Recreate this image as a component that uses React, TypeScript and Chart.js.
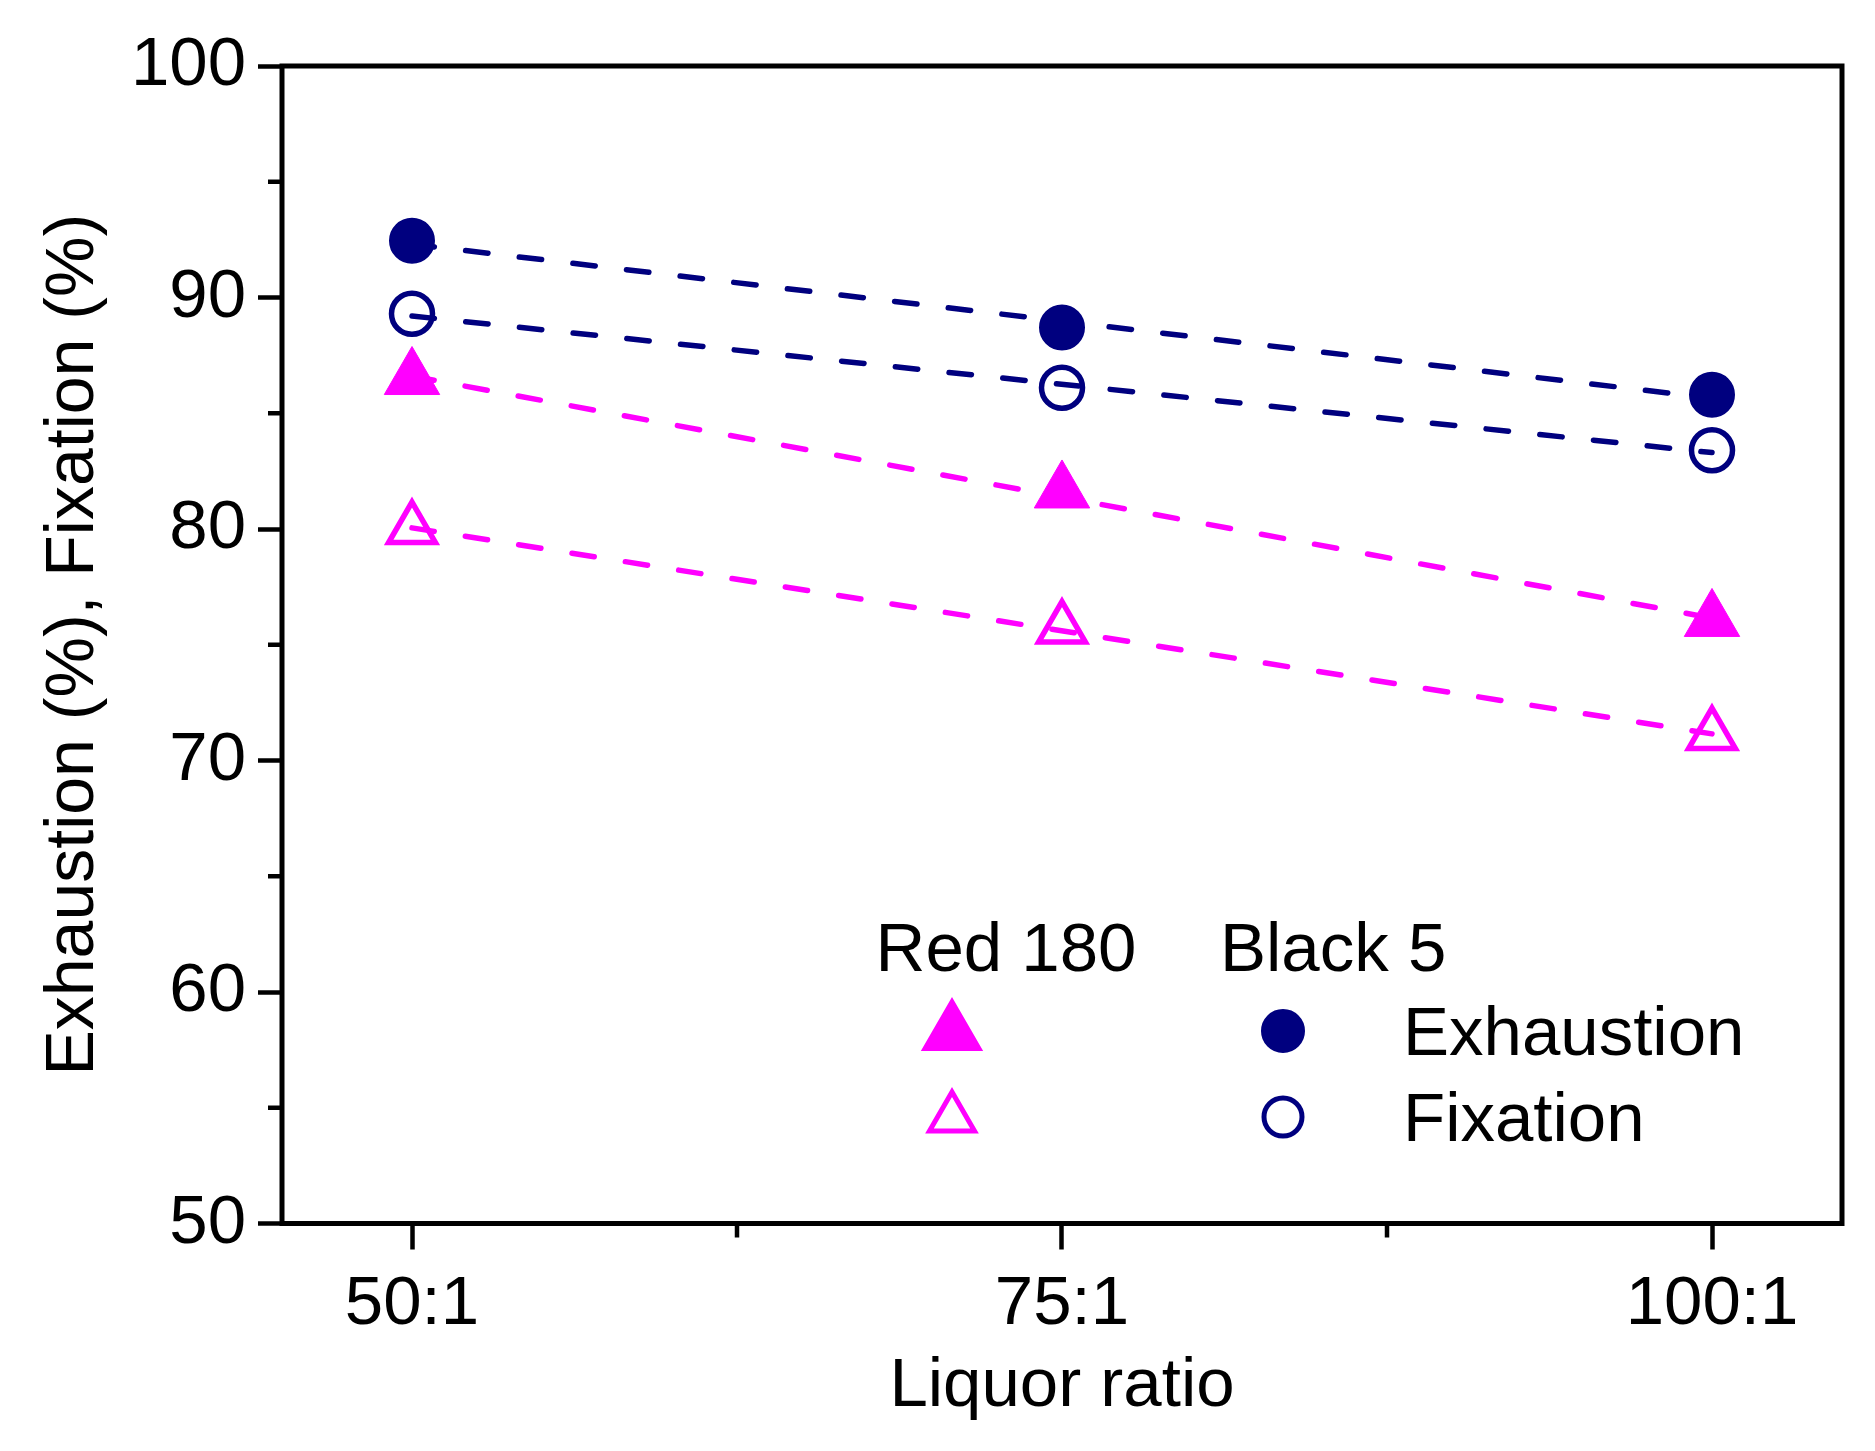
import { useEffect, useRef } from 'react';
import { Chart, registerables } from 'chart.js';
import { drawPoint } from 'chart.js/helpers';

Chart.register(...registerables);

const liquorRatios = ['50:1', '75:1', '100:1'];

// measured points
const black5Exhaustion = [92.45, 88.7, 85.8];
const black5Fixation = [89.3, 86.1, 83.4];
const red180Exhaustion = [86.5, 81.6, 76.05];
const red180Fixation = [80.0, 75.7, 71.1];

// dashed fit lines: value at 50:1 and at 100:1
const black5ExhaustionFit = [92.3, 85.65];
const black5FixationFit = [89.2, 83.3];
const red180ExhaustionFit = [86.6, 76.15];
const red180FixationFit = [80.05, 71.15];

const legendGroups = ['Red 180', 'Black 5'];
const legendRows = ['Exhaustion', 'Fixation'];

const NAVY = '#00007f';
const MAGENTA = '#ff00ff';
const FONT = 'Liberation Sans, Arial, sans-serif';
const AXIS_W = 5;
const TICK_W = 4.5;

const toPoints = (vals: number[]) => vals.map((y, i) => ({ x: i, y }));
const fitPoints = (vals: number[]) => [
  { x: 0, y: vals[0] },
  { x: liquorRatios.length - 1, y: vals[1] },
];

const frame = {
  id: 'frame',
  afterDraw(chart: any) {
    const { ctx, chartArea: a, scales } = chart;
    ctx.save();
    ctx.strokeStyle = '#000';
    ctx.lineCap = 'butt';
    // minor ticks
    ctx.lineWidth = TICK_W;
    scales.y.ticks.forEach((t: any) => {
      if (t.value % 10 === 0) return;
      const py = scales.y.getPixelForValue(t.value);
      ctx.beginPath();
      ctx.moveTo(a.left - 14, py);
      ctx.lineTo(a.left, py);
      ctx.stroke();
    });
    scales.x.ticks.forEach((t: any) => {
      if (Number.isInteger(t.value)) return;
      const px = scales.x.getPixelForValue(t.value);
      ctx.beginPath();
      ctx.moveTo(px, a.bottom);
      ctx.lineTo(px, a.bottom + 14);
      ctx.stroke();
    });
    ctx.lineWidth = AXIS_W;
    ctx.strokeRect(a.left, a.top, a.right - a.left, a.bottom - a.top);

    // legend table
    ctx.fillStyle = '#000';
    ctx.font = `69px ${FONT}`;
    ctx.textBaseline = 'alphabetic';
    ctx.textAlign = 'center';
    ctx.fillText(legendGroups[0], a.left + 724, a.top + 905);
    ctx.textAlign = 'left';
    ctx.fillText(legendGroups[1], a.left + 938, a.top + 905);
    ctx.fillText(legendRows[0], a.left + 1121, a.top + 989);
    ctx.fillText(legendRows[1], a.left + 1121, a.top + 1075);

    ctx.fillStyle = MAGENTA;
    ctx.strokeStyle = MAGENTA;
    drawPoint(ctx, { pointStyle: 'triangle', radius: 31, rotation: 0, borderWidth: 1 }, a.left + 670, a.top + 967);
    ctx.fillStyle = 'rgba(0,0,0,0)';
    ctx.lineWidth = 5;
    drawPoint(ctx, { pointStyle: 'triangle', radius: 26, rotation: 0, borderWidth: 5 }, a.left + 670, a.top + 1052);
    ctx.fillStyle = NAVY;
    ctx.strokeStyle = NAVY;
    ctx.lineWidth = 2;
    drawPoint(ctx, { pointStyle: 'circle', radius: 21, rotation: 0, borderWidth: 2 }, a.left + 1001, a.top + 965);
    ctx.fillStyle = 'rgba(0,0,0,0)';
    ctx.lineWidth = 5;
    drawPoint(ctx, { pointStyle: 'circle', radius: 19, rotation: 0, borderWidth: 5 }, a.left + 1001, a.top + 1051);
    ctx.restore();
  },
};

const fitLine = (vals: number[], color: string) => ({
  data: fitPoints(vals),
  showLine: true,
  borderColor: color,
  borderWidth: 5.5,
  borderCapStyle: 'round',
  borderDash: [22.5, 31.5],
  pointRadius: 0,
  order: 2,
});

export default function App() {
  const canvasRef = useRef<HTMLCanvasElement>(null);

  useEffect(() => {
    if (!canvasRef.current) return;
    Chart.defaults.font.family = FONT;
    const chart = new Chart(canvasRef.current, {
      type: 'scatter',
      data: {
        datasets: [
          fitLine(black5ExhaustionFit, NAVY),
          fitLine(black5FixationFit, NAVY),
          fitLine(red180ExhaustionFit, MAGENTA),
          fitLine(red180FixationFit, MAGENTA),
          {
            data: toPoints(black5Exhaustion),
            pointStyle: 'circle',
            pointRadius: 22,
            pointBackgroundColor: NAVY,
            pointBorderColor: NAVY,
            pointBorderWidth: 2,
            order: 1,
          },
          {
            data: toPoints(black5Fixation),
            pointStyle: 'circle',
            pointRadius: 20.5,
            pointBackgroundColor: 'rgba(0,0,0,0)',
            pointBorderColor: NAVY,
            pointBorderWidth: 5.5,
            order: 1,
          },
          {
            data: toPoints(red180Exhaustion),
            pointStyle: 'triangle',
            pointRadius: 32,
            pointBackgroundColor: MAGENTA,
            pointBorderColor: MAGENTA,
            pointBorderWidth: 1,
            order: 1,
          },
          {
            data: toPoints(red180Fixation),
            pointStyle: 'triangle',
            pointRadius: 27,
            pointBackgroundColor: 'rgba(0,0,0,0)',
            pointBorderColor: MAGENTA,
            pointBorderWidth: 5.5,
            order: 1,
          },
        ] as any,
      },
      options: {
        animation: false,
        responsive: false,
        devicePixelRatio: 1,
        layout: { padding: { top: 66, right: 33, bottom: 0, left: 0 } },
        plugins: { legend: { display: false }, tooltip: { enabled: false } },
        events: [],
        scales: {
          x: {
            type: 'linear',
            min: -0.2,
            max: 2.2,
            afterFit: (s: any) => { s.height = 227.5; },
            border: { display: false },
            grid: {
              drawOnChartArea: false,
              drawTicks: true,
              tickLength: 26,
              tickWidth: TICK_W,
              tickColor: (c: any) => (c.tick && Number.isInteger(c.tick.value) ? '#000' : 'rgba(0,0,0,0)'),
            },
            ticks: {
              stepSize: 0.5,
              includeBounds: false,
              autoSkip: false,
              maxRotation: 0,
              padding: 14,
              color: '#000',
              font: { size: 69 },
              callback: (v: any) => (Number.isInteger(v) ? liquorRatios[v] : ''),
            },
            title: {
              display: true,
              text: 'Liquor ratio',
              color: '#000',
              font: { size: 69 },
              padding: { top: 0, bottom: 23 },
            },
          },
          y: {
            min: 50,
            max: 100,
            afterFit: (s: any) => { s.width = 282; },
            border: { display: false },
            grid: {
              drawOnChartArea: false,
              drawTicks: true,
              tickLength: 24,
              tickWidth: TICK_W,
              tickColor: (c: any) => (c.tick && c.tick.value % 10 === 0 ? '#000' : 'rgba(0,0,0,0)'),
            },
            ticks: {
              stepSize: 5,
              autoSkip: false,
              padding: 12,
              color: '#000',
              font: { size: 69 },
              callback: (v: any) => (v % 10 === 0 ? String(v) : ''),
            },
            title: {
              display: true,
              text: 'Exhaustion (%), Fixation (%)',
              color: '#000',
              font: { size: 68 },
              padding: { top: 33, bottom: 0 },
            },
          },
        },
      },
      plugins: [frame],
    });
    return () => chart.destroy();
  }, []);

  return (
    <div style={{ position: 'absolute', left: 0, top: 0, width: 1875, height: 1451, background: '#fff' }}>
      <canvas ref={canvasRef} width={1875} height={1451} style={{ width: 1875, height: 1451 }} />
    </div>
  );
}
